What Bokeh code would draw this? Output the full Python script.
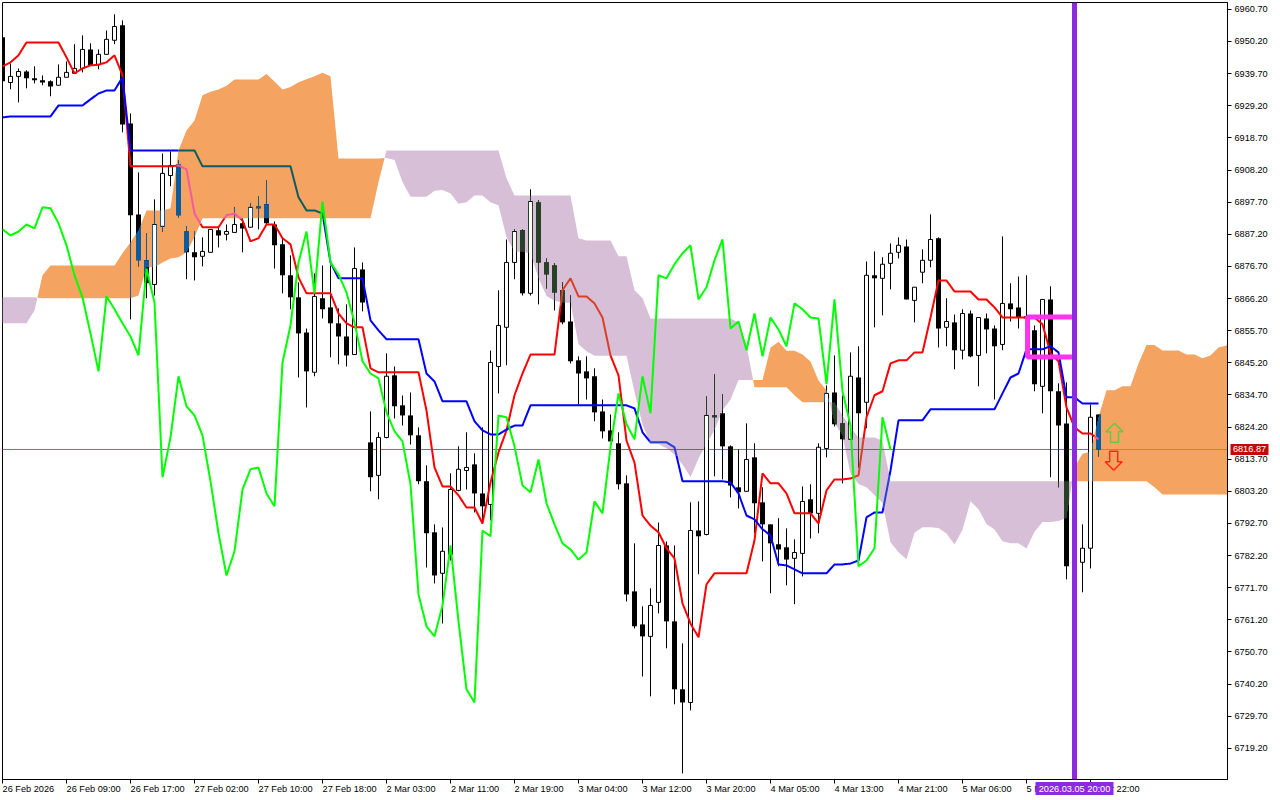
import numpy as np
from bokeh.core.properties import value
from bokeh.embed import file_html
from bokeh.resources import INLINE
from bokeh.plotting import figure
from bokeh.models import FixedTicker, Range1d, Span

opens = [6951.6,6936.8,6938.8,6940.4,6938.2,6937.5,6937.2,6935.9,6938.5,6939.8,6941.4,6947.6,6942.7,6946.0,6950.6,6955.5,6923.4,6893.7,6878.7,6870.8,
6889.8,6906.4,6910.0,6888.1,6881.3,6880.0,6881.3,6888.5,6887.2,6887.8,6890.8,6889.5,6896.3,6897.0,6890.4,6883.9,6873.8,6866.6,6855.1,6842.1,
6866.3,6863.3,6858.1,6853.8,6847.9,6875.7,6819.2,6808.4,6820.8,6841.1,6831.3,6828.0,6821.5,6806.5,6789.8,6776.4,6782.6,6803.5,6810.0,6812.0,
6802.5,6798.9,6844.0,6856.8,6878.0,6888.5,6867.9,6897.6,6878.0,6877.0,6868.9,6858.7,6846.0,6842.4,6840.8,6829.3,6823.1,6818.9,6805.8,6770.5,
6759.7,6755.8,6766.9,6785.5,6760.7,6738.5,6734.2,6790.4,6789.1,6828.0,6828.7,6817.9,6804.5,6803.2,6814.3,6799.6,6792.4,6785.9,6784.9,6781.3,
6782.9,6800.6,6796.0,6817.2,6835.5,6825.4,6820.2,6840.4,6832.3,6873.8,6872.8,6877.7,6881.3,6883.2,6865.6,6874.8,6878.7,6885.9,6856.8,6858.4,
6849.3,6861.3,6847.6,6859.7,6856.4,6851.2,6864.6,6863.3,6860.4,6855.8,6837.5,6865.9,6835.9,6825.4,6778.7,6780.0,6784.6,6828.3]
highs = [6951.6,6943.0,6941.4,6940.8,6942.1,6939.1,6937.5,6942.7,6943.7,6949.3,6952.2,6949.6,6947.6,6953.8,6959.1,6957.1,6926.7,6907.4,6887.5,6898.6,
6913.6,6914.3,6911.3,6889.8,6888.1,6886.2,6888.8,6889.5,6890.4,6896.0,6892.4,6897.3,6899.6,6904.8,6891.4,6885.9,6880.3,6871.5,6856.4,6874.4,
6877.0,6877.0,6863.0,6864.3,6882.9,6878.0,6829.3,6822.5,6848.3,6844.0,6834.5,6835.5,6824.1,6811.7,6792.4,6791.4,6809.1,6817.9,6822.5,6815.6,
6824.1,6849.2,6868.9,6885.5,6888.8,6888.8,6901.9,6898.3,6879.3,6877.7,6871.5,6867.2,6847.3,6847.3,6843.4,6833.2,6828.3,6822.5,6808.4,6786.2,
6765.6,6771.5,6793.0,6786.8,6785.5,6753.5,6799.6,6799.9,6834.2,6841.4,6834.9,6818.2,6816.9,6825.4,6818.9,6804.5,6792.4,6794.4,6791.1,6787.5,
6804.8,6805.5,6818.9,6837.8,6847.6,6834.5,6848.6,6850.6,6878.3,6881.6,6879.7,6884.2,6886.2,6885.5,6869.9,6882.3,6893.7,6886.2,6866.3,6861.0,
6862.7,6862.3,6860.0,6861.3,6857.4,6886.5,6871.2,6873.4,6873.8,6857.4,6865.9,6870.2,6838.5,6838.8,6785.5,6792.4,6831.6,6828.3]
lows = [6937.2,6934.6,6930.3,6934.9,6936.5,6935.9,6932.3,6935.9,6938.5,6939.8,6940.1,6942.4,6941.1,6946.0,6949.3,6920.5,6859.4,6876.7,6866.3,6867.2,
6888.1,6902.9,6892.7,6872.5,6872.1,6876.7,6881.3,6882.9,6885.2,6887.8,6881.3,6889.5,6888.8,6890.4,6876.0,6867.9,6862.7,6840.4,6830.6,6840.8,
6859.7,6847.0,6844.7,6844.0,6847.9,6862.0,6803.2,6800.6,6820.5,6827.0,6824.7,6818.5,6805.5,6778.3,6773.1,6760.0,6780.6,6803.2,6803.8,6796.3,
6792.7,6793.7,6835.2,6844.4,6872.5,6867.2,6867.2,6864.3,6869.5,6862.3,6857.8,6845.0,6831.6,6833.2,6826.1,6820.5,6819.5,6803.8,6767.2,6758.4,
6742.7,6736.2,6763.3,6751.9,6733.6,6711.0,6731.6,6776.1,6788.8,6808.1,6807.1,6801.2,6797.6,6803.2,6789.5,6780.3,6769.9,6778.7,6772.5,6766.3,
6775.4,6787.8,6789.5,6814.3,6824.4,6805.8,6820.2,6811.0,6823.8,6856.8,6860.7,6869.2,6879.3,6865.9,6858.4,6871.2,6876.4,6850.2,6850.6,6843.1,
6846.3,6847.0,6837.5,6848.3,6833.2,6849.3,6858.7,6856.4,6859.1,6835.9,6828.7,6807.8,6804.5,6774.4,6775.7,6770.2,6778.0,6814.6]
closes = [6937.2,6938.8,6940.4,6938.2,6937.5,6936.8,6935.5,6938.5,6940.1,6941.4,6947.6,6942.4,6946.0,6950.9,6955.1,6923.1,6893.4,6878.7,6871.2,6890.4,
6907.1,6909.7,6893.4,6881.3,6879.7,6881.6,6888.8,6886.8,6888.1,6890.4,6889.1,6896.0,6895.7,6890.8,6883.6,6873.8,6866.6,6854.8,6842.4,6866.9,
6862.7,6858.1,6853.8,6847.6,6876.0,6864.9,6807.8,6820.8,6840.8,6831.0,6828.0,6821.5,6806.5,6789.5,6775.7,6783.6,6803.8,6810.4,6811.0,6802.5,
6798.3,6845.3,6857.4,6878.0,6888.1,6867.9,6897.9,6878.0,6874.1,6868.2,6858.4,6845.7,6841.7,6840.1,6829.0,6822.8,6819.5,6805.5,6769.5,6759.1,
6755.8,6765.9,6785.5,6760.7,6738.5,6734.2,6790.4,6788.5,6828.0,6827.4,6817.9,6805.1,6802.9,6813.6,6799.3,6792.4,6786.2,6784.2,6780.9,6783.2,
6799.9,6796.0,6817.6,6835.2,6825.1,6820.2,6840.8,6828.7,6873.8,6872.8,6877.4,6881.0,6883.6,6865.9,6869.9,6878.7,6885.5,6856.4,6858.7,6849.3,
6861.3,6847.3,6860.0,6856.1,6850.6,6864.6,6862.7,6860.0,6859.7,6838.2,6865.9,6835.9,6824.7,6778.7,6780.6,6784.6,6827.4,6816.87]

tenkan = [6942.1,6943.4,6945.7,6949.9,6949.9,6949.9,6949.9,6949.9,6945.0,6939.8,6941.4,6942.4,6942.6,6943.4,6945.7,6939.1,
6909.4,6909.4,6909.4,6909.4,6909.4,6909.4,6909.7,6908.4,6894.0,6889.5,6889.5,6889.5,6893.4,6894.0,6891.7,6884.9,6885.9,6890.4,6890.4,6885.9,6883.9,6873.1,
6867.9,6867.9,6867.9,6867.9,6861.3,6858.1,6856.8,6856.8,6843.4,6842.1,6842.1,6842.1,6842.1,6842.1,6842.1,6829.6,6811.0,6804.8,6804.8,6801.9,6797.9,6797.9,
6792.7,6806.1,6815.9,6823.1,6834.6,6841.7,6847.9,6847.9,6847.9,6847.9,6868.9,6872.8,6866.9,6866.9,6864.6,6860.0,6847.6,6841.1,6819.8,6812.6,
6795.3,6792.0,6789.8,6784.6,6781.3,6766.6,6760.0,6755.5,6772.8,6776.4,6776.4,6776.4,6776.4,6776.4,6787.2,6809.1,6805.8,6805.8,6802.5,6796.0,
6796.0,6796.0,6792.7,6803.5,6807.1,6807.1,6807.4,6808.4,6827.4,6834.6,6835.9,6845.0,6846.0,6846.0,6848.6,6848.6,6860.0,6872.1,6872.1,6868.5,
6868.5,6868.5,6865.9,6865.9,6863.3,6860.0,6860.0,6860.0,6860.0,6860.0,6857.8,6848.3,6845.7,6830.6,6824.1,6822.1,6822.1,6820.2]
kijun = [6925.4,6925.7,6925.7,6925.7,6925.7,6925.7,6925.7,6929.3,6929.3,6929.3,6929.3,6931.3,6933.2,6934.2,6934.2,6938.5,
6914.6,6914.6,6914.6,6914.6,6914.6,6914.6,6914.6,6914.6,6914.6,
6909.4,6909.4,6909.4,6909.4,6909.4,6909.4,6909.4,6909.4,6909.4,6909.4,6909.4,6909.4,
6899.3,6895.0,6895.0,6894.0,6878.0,6872.8,6872.8,6872.8,6872.8,6859.1,6855.8,6852.9,6852.9,6852.9,6852.9,6852.9,6841.7,6839.1,
6832.6,6832.6,6832.6,6832.6,6826.1,6823.1,6821.8,6821.8,6823.4,6824.7,6824.7,
6831.3,6831.3,6831.3,6831.3,6831.3,6831.3,6831.3,6831.3,6831.3,6831.3,6831.3,6831.3,6831.3,
6830.3,6822.5,6819.2,6819.2,6819.2,6817.6,6806.5,6806.5,6806.5,6806.5,6806.5,6806.5,6806.1,6802.5,6795.3,6794.0,6790.8,6788.8,6779.3,6779.0,6777.7,
6776.4,6776.4,6776.4,6776.4,6779.3,6779.3,6779.6,6780.6,6794.7,6796.3,6796.3,6810.0,6826.4,6826.4,6826.4,6826.4,
6830.0,6830.0,6830.0,6830.0,6830.0,6830.0,6830.0,6830.0,6830.0,6835.2,6840.4,6841.7,6849.6,6849.6,6849.6,6850.6,6848.6,6833.9,6833.9,6831.9,6831.9,6831.9]

# Leading span A for the bars before Tenkan/Kijun can be shifted onto the chart
senkou_a_head = [6858.1,6858.1,6858.1,6858.1,6862.3,6873.8,6877.0,6877.0,6877.0,6877.0,6877.0,6877.0,6877.0,6877.0,6877.0,6881.0,6884.6,6888.5,
6895.0,6895.0,6895.0,6895.7,6914.6,6921.1,6924.4,6932.6]
senkou_b = [6866.6,6866.6,6866.6,6866.6,6866.6,
6866.3,6866.3,6866.3,6866.3,6866.3,6866.3,6866.3,6866.3,6866.3,6866.3,6866.3,6866.3,
6867.2,6876.4,6876.4,6878.0,6879.3,6879.7,6881.3,6886.2,
6892.4,6892.4,6892.4,6892.4,6892.4,6892.4,6892.4,6892.4,6892.4,6892.4,6892.4,6892.4,6892.4,6892.4,6892.4,6892.4,6892.4,6892.4,6892.4,6892.4,6892.4,6892.4,
6904.2,
6914.6,6914.6,6914.6,6914.6,6914.6,6914.6,6914.6,6914.6,6914.6,6914.6,6914.6,6914.6,6914.6,6914.6,6914.6,
6905.5,6899.9,6899.9,6899.9,6899.9,6899.9,6899.9,6899.9,6899.9,
6885.9,6885.2,6885.2,6885.2,6885.2,6880.0,6880.0,6868.9,6866.3,
6859.7,6859.7,6859.7,6859.7,6859.7,6859.7,6859.7,6859.7,6859.7,6859.7,6859.7,
6858.4,6850.9,6837.2,6837.2,6837.2,6837.2,6837.2,6834.6,6832.3,6832.3,6832.3,6832.3,6832.3,6828.0,6824.1,6820.8,6820.8,6820.8,6819.8,
6806.5,6806.5,6806.5,6806.5,6806.5,6806.5,6806.5,6806.5,6806.5,6806.5,6806.5,6806.5,6806.5,6806.5,6806.5,6806.5,6806.5,
6806.5,6806.5,6806.5,6806.5,6806.5,6806.5,6806.5,6806.5,6806.5,6806.5,6806.5,6806.5,6806.5,6806.5,6806.5,6806.5,
6804.5,6802.2,6802.2,6802.2,6802.2,6802.2,6802.2,6802.2,6802.2,6802.2,6802.2]

price_ticks = [6960.70,6950.20,6939.70,6929.20,6918.70,6908.20,6897.70,6887.20,6876.70,6866.20,6855.70,6845.20,6834.70,6824.20,6813.70,6803.20,6792.70,6782.20,6771.70,6761.20,6750.70,6740.20,6729.70,6719.20]
time_labels = ["26 Feb 2026","26 Feb 09:00","26 Feb 17:00","27 Feb 02:00","27 Feb 10:00","27 Feb 18:00","2 Mar 03:00","2 Mar 11:00","2 Mar 19:00","3 Mar 04:00","3 Mar 12:00","3 Mar 20:00","4 Mar 05:00","4 Mar 13:00","4 Mar 21:00","5 Mar 06:00","5 Mar 14:00","5 Mar 22:00"]
last_price = 6816.87
cursor_bar = 134
cursor_label = "2026.03.05 20:00"
box_bars = (128.13, 134)
box_prices = (6847.1, 6860.2)
arrow_bar = 139.0
arrow_up_price = 6822.5
arrow_down_price = 6813.0

FONT = "Liberation Sans"
FS = "9.2px"
ORANGE, LILAC = "#F4A460", "#D8BFD8"
PX = 1 / 8.0                 # one screen pixel along x, in bars
PY = (6960.7 - 6719.2) / 739 # one screen pixel along y, in price
NUDGE = -0.14 * PY           # puts the 1px last-price line on a pixel row

o, h, l, c = map(np.array, (opens, highs, lows, closes))
ten, kij = np.array(tenkan), np.array(kijun)
assert all(len(v) == 138 for v in (o, h, l, c, ten, kij)), [len(v) for v in (o, h, l, c, ten, kij)]
b_arr = np.array(senkou_b)
n_c = len(b_arr)
a_arr = np.array(senkou_a_head + list((ten[:n_c - 26] + kij[:n_c - 26]) / 2))
assert len(a_arr) == n_c, (len(a_arr), n_c)
bars = np.arange(138)
cloud_x = np.arange(n_c)

x0 = 0.0
x1 = 1225 / 8
y_top = 6960.7 + 7 * PY + NUDGE
y_bot = 6960.7 - 770 * PY + NUDGE

p = figure(width=1280, height=800, output_backend="svg", toolbar_location=None,
           x_range=Range1d(x0, x1), y_range=Range1d(y_bot, y_top),
           y_axis_location="right", min_border_left=2, min_border_right=53,
           min_border_top=2, min_border_bottom=21, background_fill_color="white",
           border_fill_color="white", outline_line_color="black", outline_line_width=1)
p.styles = {"position": "absolute", "left": "0px", "top": "0px"}
p.grid.visible = False

yax = p.yaxis[0]
yax.ticker = FixedTicker(ticks=price_ticks)
yax.major_label_overrides = {t: f"{t:.2f}" for t in price_ticks}
yax.major_label_text_font = FONT
yax.major_label_text_font_size = FS
yax.major_label_text_color = "black"
yax.major_tick_out, yax.major_tick_in = 4, 0
yax.minor_tick_line_color = None
yax.major_label_standoff = 3
yax.axis_line_color = "black"

# each time label starts at its tick, so the label sits at the middle of its own width
GLYPH_W = {" ": 2.56, ":": 2.56, "F": 5.6, "M": 7.66, "r": 3.06}
def text_width(t):
    return sum(GLYPH_W.get(ch, 5.12) for ch in t)

tick_bars = [8 * k for k in range(len(time_labels))]
label_mids = [round(b + text_width(t) / 2 * PX, 4) for b, t in zip(tick_bars, time_labels)]
xax = p.xaxis[0]
xax.ticker = FixedTicker(ticks=label_mids, minor_ticks=tick_bars)
xax.major_label_overrides = dict(zip(label_mids, time_labels))
xax.major_label_text_font = FONT
xax.major_label_text_font_size = FS
xax.major_label_text_color = "black"
xax.major_tick_line_color = None
xax.major_tick_out, xax.major_tick_in = 0, 0
xax.minor_tick_out, xax.minor_tick_in = 4, 0
xax.minor_tick_line_color = "black"
xax.major_label_standoff = 0
xax.axis_line_color = "black"

# cloud, split into runs at every crossing of the two spans
def cloud_runs():
    runs, cur = [], None
    for i in range(n_c):
        d = a_arr[i] - b_arr[i]
        kind = d >= 0
        if cur is None:
            cur = dict(kind=kind, x=[], y1=[], y2=[])
        if cur["kind"] != kind:
            d0 = a_arr[i - 1] - b_arr[i - 1]
            t = d0 / (d0 - d)
            xc = i - 1 + t
            yc = a_arr[i - 1] + t * (a_arr[i] - a_arr[i - 1])
            cur["x"].append(xc); cur["y1"].append(yc); cur["y2"].append(yc)
            runs.append(cur)
            cur = dict(kind=kind, x=[xc], y1=[yc], y2=[yc])
        cur["x"].append(i); cur["y1"].append(a_arr[i]); cur["y2"].append(b_arr[i])
    runs.append(cur)
    return runs

for r in cloud_runs():
    p.varea(x=r["x"], y1=r["y1"], y2=r["y2"], fill_color=ORANGE if r["kind"] else LILAC, fill_alpha=1)

def cloud_at(x):
    a = np.interp(x, cloud_x, a_arr)
    b = np.interp(x, cloud_x, b_arr)
    return min(a, b), max(a, b), a >= b

# lines take a tinted colour where they run through the cloud
def tinted_runs(xs, ys, base, on_orange, on_lilac, sub=8):
    runs = {}
    cur_col, cur_x, cur_y = None, [], []
    for i in range(len(xs) - 1):
        for k in range(sub):
            xa = xs[i] + (xs[i + 1] - xs[i]) * k / sub
            xb = xs[i] + (xs[i + 1] - xs[i]) * (k + 1) / sub
            ya = ys[i] + (ys[i + 1] - ys[i]) * k / sub
            yb = ys[i] + (ys[i + 1] - ys[i]) * (k + 1) / sub
            lo_c, hi_c, kind = cloud_at((xa + xb) / 2)
            inside = lo_c <= (ya + yb) / 2 <= hi_c
            col = (on_orange if kind else on_lilac) if inside else base
            if col != cur_col:
                if cur_col is not None:
                    runs.setdefault(cur_col, []).append((cur_x, cur_y))
                cur_col, cur_x, cur_y = col, [xa], [ya]
            cur_x.append(xb); cur_y.append(yb)
    runs.setdefault(cur_col, []).append((cur_x, cur_y))
    return runs

line_xs = list(np.arange(-1.0, x1 + 1, 1.0))
for col, segs in tinted_runs(line_xs, [last_price] * len(line_xs), "#FF0000", "#C05CB4", "#FF0000", sub=8).items():
    p.multi_line([s[0] for s in segs], [s[1] for s in segs], line_color=col, line_width=1)

# candles
bull = c >= o
top = np.maximum(o, c)
bot = np.minimum(o, c)
p.segment(bars, h, bars, l, line_color="black", line_width=1)
p.quad(left=bars[~bull] - 2.5 * PX, right=bars[~bull] + 2.5 * PX, top=top[~bull], bottom=bot[~bull],
       fill_color="black", line_color=None)
p.quad(left=bars[bull] - 2 * PX, right=bars[bull] + 2 * PX, top=top[bull], bottom=bot[bull],
       fill_color="white", line_color="black", line_width=1)

# where candles run through the cloud their ink takes the inverted cloud colour
ov = {True: dict(l=[], r=[], t=[], b=[]), False: dict(l=[], r=[], t=[], b=[])}
def overlap(xc, t, b):
    lo_c, hi_c, kind = cloud_at(xc)
    tt, bb = min(t, hi_c), max(b, lo_c)
    if tt > bb:
        d = ov[bool(kind)]
        d["l"].append(xc - 0.5 * PX); d["r"].append(xc + 0.5 * PX); d["t"].append(tt); d["b"].append(bb)

for i in bars:
    overlap(float(i), h[i], top[i])
    overlap(float(i), bot[i], l[i])
    if bull[i]:
        overlap(i - 2 * PX, top[i], bot[i])
        overlap(i + 2 * PX, top[i], bot[i])
    else:
        for dx in (-2, -1, 0, 1, 2):
            overlap(i + dx * PX, top[i], bot[i])
for kind, col in ((True, "#0B5B9F"), (False, "#274027")):
    d = ov[kind]
    if d["l"]:
        p.quad(left=d["l"], right=d["r"], top=d["t"], bottom=d["b"], fill_color=col, line_color=None)

# Tenkan / Kijun
for ys, base, oo, ol in ((ten, "#FF0000", "#F45B9F", "#D84027"), (kij, "#0000FF", "#0B5B60", "#2740D8")):
    for col, segs in tinted_runs(list(bars.astype(float)), list(ys), base, oo, ol).items():
        p.multi_line([s[0] for s in segs], [s[1] for s in segs], line_color=col, line_width=2)

# Chikou: the close shifted 26 bars back
chikou = c[26:]
p.line(bars[:len(chikou)], chikou, line_color="#00FF00", line_width=2)

# magenta box and arrows
p.quad(left=[box_bars[0]], right=[box_bars[1]], top=[box_prices[1]], bottom=[box_prices[0]],
       fill_color=None, line_color="#FF33EE", line_width=5)

def arrow(bar, price, sgn, col):
    dx = np.array([0, 8.5, 4, 4, -4, -4, -8.5, 0]) * PX
    dy = np.array([-9, -0.5, -0.5, 10, 10, -0.5, -0.5, -9]) * PY
    p.line(bar + dx, price - sgn * dy, line_color=col, line_width=1.5)

arrow(arrow_bar, arrow_up_price, 1, "#66C83C")
arrow(arrow_bar - 0.1, arrow_down_price, -1, "#FF2A10")

p.add_layout(Span(location=cursor_bar, dimension="height", line_color="#8A2BE2", line_width=5))

# The two value tags lie outside the plot frame, where annotations are clipped,
# so they sit in a transparent layer with the same scales covering the whole page.
tags = figure(width=1280, height=800, output_backend="svg", toolbar_location=None,
              x_range=Range1d(-2 * PX, (1280 - 2) * PX),
              y_range=Range1d(y_top - 798 * PY, y_top + 2 * PY),
              x_axis_location=None, y_axis_location=None, min_border=0,
              background_fill_color=None, border_fill_color=None, outline_line_color=None)
tags.styles = {"position": "absolute", "left": "0px", "top": "0px", "pointer-events": "none"}
tags.grid.visible = False

tag_row = y_bot - 9 * PY
tags.quad(left=[cursor_bar - 39 * PX], right=[cursor_bar + 39 * PX], top=[tag_row + 6.5 * PY], bottom=[tag_row - 6.5 * PY],
          fill_color="#8A2BE2", line_color=None)
tags.text(x=[cursor_bar], y=[tag_row], text=[cursor_label], text_align="center", text_baseline="middle",
          text_font=value(FONT), text_font_size=value(FS), text_color="white")
tags.quad(left=[x1 + 3 * PX], right=[x1 + 41 * PX], top=[last_price + 5.5 * PY], bottom=[last_price - 5.5 * PY],
          fill_color="#C40808", line_color=None)
tags.text(x=[x1 + 22 * PX], y=[last_price], text=[f"{last_price:.2f}"], text_align="center", text_baseline="middle",
          text_font=value(FONT), text_font_size=value(FS), text_color="white")

open("out.html", "w").write(file_html([p, tags], INLINE))
